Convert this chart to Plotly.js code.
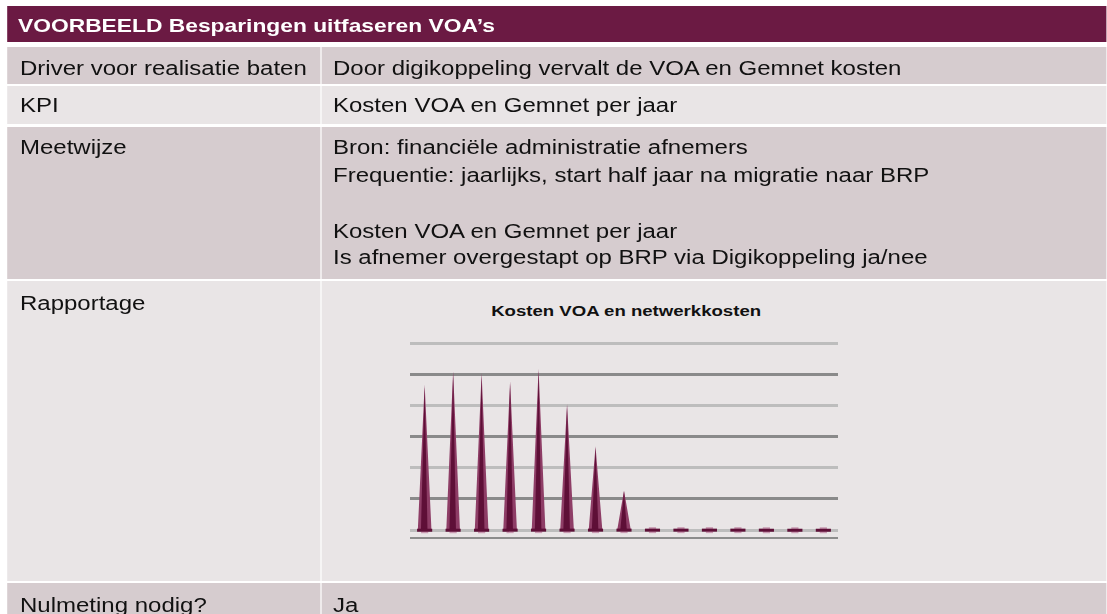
<!DOCTYPE html>
<html>
<head>
<meta charset="utf-8">
<script src="https://cdn.plot.ly/plotly-3.0.1.min.js"></script>
<style>
html,body{margin:0;padding:0;background:#ffffff;overflow:hidden;width:1107px;height:614px;}
#page{position:absolute;left:0;top:0;width:922.5px;height:614px;transform:scaleX(1.2);transform-origin:0 0;font-family:"Liberation Sans",Arial,Helvetica,sans-serif;}
.cell{position:absolute;}
.txt{position:absolute;white-space:nowrap;font-size:20px;line-height:20px;color:#111111;}
.hdr{position:absolute;white-space:nowrap;font-weight:bold;font-size:19px;line-height:19px;color:#ffffff;}
#chart{position:absolute;left:300px;top:285px;width:440px;height:265px;}
</style>
</head>
<body>
<div id="page"><div id="chart"></div></div>
<script>
// ---------- data ----------
const tableTitle = "VOORBEELD Besparingen uitfaseren VOA’s";
const rowLabels = ["Driver voor realisatie baten", "KPI", "Meetwijze", "Rapportage", "Nulmeting nodig?"];
const rowValues = [
  ["Door digikoppeling vervalt de VOA en Gemnet kosten"],
  ["Kosten VOA en Gemnet per jaar"],
  ["Bron: financiële administratie afnemers",
   "Frequentie: jaarlijks, start half jaar na migratie naar BRP",
   "",
   "Kosten VOA en Gemnet per jaar",
   "Is afnemer overgestapt op BRP via Digikoppeling ja/nee"],
  [],
  ["Ja"]
];
const chartTitle = "Kosten VOA en netwerkkosten";
const periods = ["1","2","3","4","5","6","7","8","9","10","11","12","13","14","15"];
const kosten  = [4.67, 5.10, 5.04, 4.78, 5.18, 4.05, 2.69, 1.27, 0, 0, 0, 0, 0, 0, 0];

// ---------- table layout (unstretched px; page is scaled 1.2 horizontally) ----------
const page = document.getElementById('page');
const colLeft = [5.83, 268.33], colWidth = [260.84, 654.17];
const textX = [16.67, 277.5];
const rowTop = [46.5, 85.5, 126.5, 281, 583];
const rowBottom = [83.5, 124, 279, 581, 620];
const rowFill = ['#d6cccf', '#e9e5e6', '#d6cccf', '#e9e5e6', '#d6cccf'];
const labelBase = [75, 111.8, 153.5, 310, 612];
const valueBase = [[75], [111.8], [154, 181.5, null, 238, 264], [], [612]];

function box(l, t, w, h, c) {
  const d = document.createElement('div');
  d.className = 'cell';
  d.style.cssText = `left:${l}px;top:${t}px;width:${w}px;height:${h}px;background:${c};`;
  page.insertBefore(d, document.getElementById('chart'));
}
function text(str, x, base, cls, asc) {
  const d = document.createElement('div');
  d.className = cls;
  d.textContent = str;
  d.style.left = x + 'px';
  d.style.top = (base - asc) + 'px';
  page.appendChild(d);
}
box(5.83, 6, 916.67, 36, '#6b1a43');
text(tableTitle, 15, 31.7, 'hdr', 16.08);
rowLabels.forEach((lab, r) => {
  for (let c = 0; c < 2; c++) box(colLeft[c], rowTop[r], colWidth[c], rowBottom[r] - rowTop[r], rowFill[r]);
  text(lab, textX[0], labelBase[r], 'txt', 16.93);
  rowValues[r].forEach((v, k) => {
    if (v && valueBase[r][k] != null) text(v, textX[1], valueBase[r][k], 'txt', 16.93);
  });
});

// ---------- chart ----------
const idx = periods.map((p, i) => i);
function coneShape(frac, leftK, rightK) {
  const xs = [], ys = [];
  kosten.forEach((v, i) => {
    if (v <= 0) return;
    xs.push(i - leftK, i, i + rightK, null);
    ys.push(0, v * frac, 0, null);
  });
  return {x: xs, y: ys};
}
const outer = coneShape(1, 0.24, 0.24);
const inner = coneShape(0.985, 0.13, 0.10);
const traces = [
  {type:'scatter', mode:'markers', x: idx, y: kosten.map(() => 0), hoverinfo:'skip',
   marker:{symbol:'square', size:6, color:'#c99ab2'}},
  {type:'scatter', mode:'lines', x: outer.x, y: outer.y, fill:'toself', fillcolor:'#8e3d66',
   line:{width:0, color:'#8e3d66'}, hoverinfo:'skip'},
  {type:'scatter', mode:'lines', x: inner.x, y: inner.y, fill:'toself', fillcolor:'#5e0f37',
   line:{width:0, color:'#5e0f37'}, hoverinfo:'skip'},
  {type:'scatter', mode:'markers', x: idx, y: kosten.map(() => 0), yaxis:'y2', hoverinfo:'skip',
   marker:{symbol:'line-ew', size:9, line:{width:3, color:'#5e0f37'}}}
];
const yr = [-0.22, 6.1];
const layout = {
  width: 440, height: 265,
  margin: {l: 41.7, r: 42.25, t: 55, b: 12.5, pad: 0},
  paper_bgcolor: 'rgba(0,0,0,0)', plot_bgcolor: 'rgba(0,0,0,0)',
  showlegend: false,
  font: {family: '"Liberation Sans", Arial, sans-serif', color: '#111111'},
  title: {text: '<b>' + chartTitle + '</b>', font: {family: '"Liberation Sans", Arial, sans-serif', size: 15.5, color: '#111111'},
          x: 0.504, xref: 'container', xanchor: 'center', y: 0.902, yref: 'container', yanchor: 'middle'},
  xaxis: {range: [-0.5, 14.5], showgrid: false, zeroline: false, showticklabels: false, ticks: '',
          showline: true, linecolor: '#8c8c8c', linewidth: 2, fixedrange: true},
  yaxis: {range: yr, tick0: 0, dtick: 2, gridcolor: '#bdbdbd', gridwidth: 3, showticklabels: false,
          zeroline: false, ticks: '', showline: false, fixedrange: true},
  yaxis2: {range: yr, overlaying: 'y', side: 'left', tick0: 1, dtick: 2, gridcolor: '#8a8a8a', gridwidth: 3,
           showticklabels: false, zeroline: false, ticks: '', showline: false, fixedrange: true}
};
Plotly.newPlot('chart', traces, layout, {staticPlot: true, displayModeBar: false});
</script>
</body>
</html>
